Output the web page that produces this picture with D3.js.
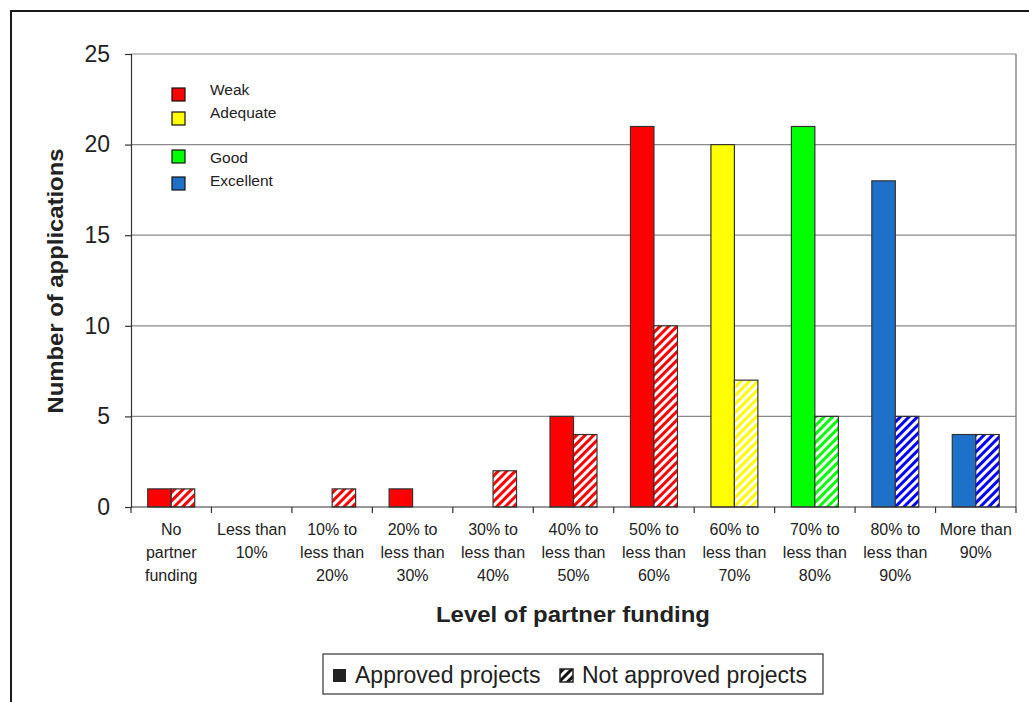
<!DOCTYPE html>
<html>
<head>
<meta charset="utf-8">
<script src="https://cdn.jsdelivr.net/npm/d3@7"></script>
<style>
  html, body { margin: 0; padding: 0; background: #fff; }
  svg { display: block; font-family: "Liberation Sans", Arial, sans-serif; }
</style>
</head>
<body>
<svg id="chart" width="1029" height="702"></svg>
<script>
// Funding bands (x-axis categories), each label split into lines
const categories = [
  ["No", "partner", "funding"],
  ["Less than", "10%"],
  ["10% to", "less than", "20%"],
  ["20% to", "less than", "30%"],
  ["30% to", "less than", "40%"],
  ["40% to", "less than", "50%"],
  ["50% to", "less than", "60%"],
  ["60% to", "less than", "70%"],
  ["70% to", "less than", "80%"],
  ["80% to", "less than", "90%"],
  ["More than", "90%"]
];
const approved    = [1, 0, 0, 1, 0, 5, 21, 20, 21, 18, 4];
const notApproved = [1, 0, 1, 0, 2, 4, 10, 7, 5, 5, 4];
// Rating of each band
const rating = ["Weak", "Weak", "Weak", "Weak", "Weak", "Weak", "Weak",
                "Adequate", "Good", "Excellent", "Excellent"];
const ratingNames = ["Weak", "Adequate", "Good", "Excellent"];
const yTicks = [0, 5, 10, 15, 20, 25];

const solidColor = { Weak: "#ff0000", Adequate: "#ffff00", Good: "#00ff00", Excellent: "#1f70c8" };
const hatchColor = { Weak: "#ff0000", Adequate: "#ffff00", Good: "#00ff00", Excellent: "#0000ff" };

const svg = d3.select("#chart");
const plot = { left: 131, right: 1016, top: 54, bottom: 507 };

// Outer frame
svg.append("rect").attr("x", 11).attr("y", 11).attr("width", 1040).attr("height", 720)
  .attr("fill", "none").attr("stroke", "#1a1a1a").attr("stroke-width", 2);

// Hatch patterns
const defs = svg.append("defs");
ratingNames.forEach((r, i) => {
  const p = defs.append("pattern").attr("id", "hatch" + i)
    .attr("patternUnits", "userSpaceOnUse").attr("width", 6).attr("height", 6)
    .attr("patternTransform", "rotate(45)");
  p.append("rect").attr("width", 6).attr("height", 6).attr("fill", "#fff");
  p.append("rect").attr("width", 3).attr("height", 6).attr("fill", hatchColor[r]);
});
const blackHatch = defs.append("pattern").attr("id", "hatchBlack")
  .attr("patternUnits", "userSpaceOnUse").attr("width", 6).attr("height", 6)
  .attr("patternTransform", "rotate(45)");
blackHatch.append("rect").attr("width", 6).attr("height", 6).attr("fill", "#fff");
blackHatch.append("rect").attr("width", 3).attr("height", 6).attr("fill", "#111");

const x = d3.scaleBand().domain(d3.range(categories.length))
  .range([plot.left, plot.right]).paddingInner(0).paddingOuter(0);
const y = d3.scaleLinear().domain([0, 25]).range([plot.bottom, plot.top]);

// Gridlines
svg.append("g").selectAll("line").data(yTicks.filter(t => t > 0)).join("line")
  .attr("x1", plot.left).attr("x2", plot.right)
  .attr("y1", d => y(d)).attr("y2", d => y(d))
  .attr("stroke", "#8a8a8a").attr("stroke-width", 1.2);
// Right border of plot area
svg.append("line").attr("x1", plot.right).attr("x2", plot.right)
  .attr("y1", plot.top).attr("y2", plot.bottom)
  .attr("stroke", "#8a8a8a").attr("stroke-width", 1.5);

// Bars
const bw = x.bandwidth() * 0.292;
const off = (x.bandwidth() - 2 * bw) / 2;
const bars = svg.append("g");
categories.forEach((c, i) => {
  const r = rating[i];
  const ri = ratingNames.indexOf(r);
  if (approved[i] > 0) {
    bars.append("rect")
      .attr("x", x(i) + off).attr("y", y(approved[i]))
      .attr("width", bw).attr("height", y(0) - y(approved[i]))
      .attr("fill", solidColor[r]).attr("stroke", "#333").attr("stroke-width", 1.2);
  }
  if (notApproved[i] > 0) {
    bars.append("rect")
      .attr("x", x(i) + off + bw).attr("y", y(notApproved[i]))
      .attr("width", bw).attr("height", y(0) - y(notApproved[i]))
      .attr("fill", "url(#hatch" + ri + ")").attr("stroke", "#333").attr("stroke-width", 1.2);
  }
});

// Y axis
const yAxis = svg.append("g").attr("transform", `translate(${plot.left},0)`)
  .call(d3.axisLeft(y).tickValues(yTicks).tickSize(6).tickPadding(15));
yAxis.select(".domain").attr("stroke", "#333").attr("stroke-width", 1.2);
yAxis.selectAll(".tick line").attr("stroke", "#333").attr("stroke-width", 1.2);
yAxis.selectAll(".tick text").attr("font-size", 23).attr("fill", "#222")
  .attr("font-family", "Liberation Sans, Arial, sans-serif");

// X axis with ticks at band boundaries
svg.append("line").attr("x1", plot.left).attr("x2", plot.right)
  .attr("y1", plot.bottom).attr("y2", plot.bottom)
  .attr("stroke", "#333").attr("stroke-width", 1.2);
const bounds = d3.range(categories.length + 1).map(i => i < categories.length ? x(i) : plot.right);
svg.append("g").selectAll("line").data(bounds).join("line")
  .attr("x1", d => d).attr("x2", d => d)
  .attr("y1", plot.bottom).attr("y2", plot.bottom + 6)
  .attr("stroke", "#333").attr("stroke-width", 1.2);

// X tick labels
const xl = svg.append("g").attr("font-size", 16).attr("fill", "#222").attr("text-anchor", "middle");
categories.forEach((lines, i) => {
  const t = xl.append("text").attr("x", x(i) + x.bandwidth() / 2).attr("y", 535);
  lines.forEach((ln, k) => {
    t.append("tspan").attr("x", x(i) + x.bandwidth() / 2).attr("dy", k === 0 ? 0 : 23).text(ln);
  });
});

// Axis titles
svg.append("text").attr("x", 573).attr("y", 622).attr("text-anchor", "middle")
  .attr("font-size", 22).attr("font-weight", "bold").attr("fill", "#222")
  .attr("textLength", 274).attr("lengthAdjust", "spacingAndGlyphs")
  .text("Level of partner funding");
svg.append("text").attr("transform", "translate(63,281) rotate(-90)")
  .attr("text-anchor", "middle").attr("font-size", 22).attr("font-weight", "bold").attr("fill", "#222")
  .attr("textLength", 265).attr("lengthAdjust", "spacingAndGlyphs")
  .text("Number of applications");

// Rating legend inside the plot
const legendRows = [
  { name: "Weak", sq: 88, ty: 95 },
  { name: "Adequate", sq: 112, ty: 118 },
  { name: "Good", sq: 150, ty: 163 },
  { name: "Excellent", sq: 177, ty: 186 }
];
const lg = svg.append("g");
legendRows.forEach(d => {
  lg.append("rect").attr("x", 172).attr("y", d.sq).attr("width", 13).attr("height", 13)
    .attr("fill", solidColor[d.name]).attr("stroke", "#111").attr("stroke-width", 1.2);
  lg.append("text").attr("x", 210).attr("y", d.ty).attr("font-size", 15.5).attr("fill", "#222").text(d.name);
});

// Approval legend at the bottom
const bl = svg.append("g");
bl.append("rect").attr("x", 323).attr("y", 654).attr("width", 500).attr("height", 40)
  .attr("fill", "#fff").attr("stroke", "#333").attr("stroke-width", 1.2);
bl.append("rect").attr("x", 333).attr("y", 669).attr("width", 13).attr("height", 13).attr("fill", "#222");
bl.append("text").attr("x", 355).attr("y", 683).attr("font-size", 23).attr("fill", "#222").text("Approved projects");
bl.append("rect").attr("x", 560).attr("y", 669).attr("width", 13).attr("height", 13)
  .attr("fill", "url(#hatchBlack)").attr("stroke", "#222").attr("stroke-width", 1.5);
bl.append("text").attr("x", 582).attr("y", 683).attr("font-size", 23).attr("fill", "#222").text("Not approved projects");
</script>
</body>
</html>
